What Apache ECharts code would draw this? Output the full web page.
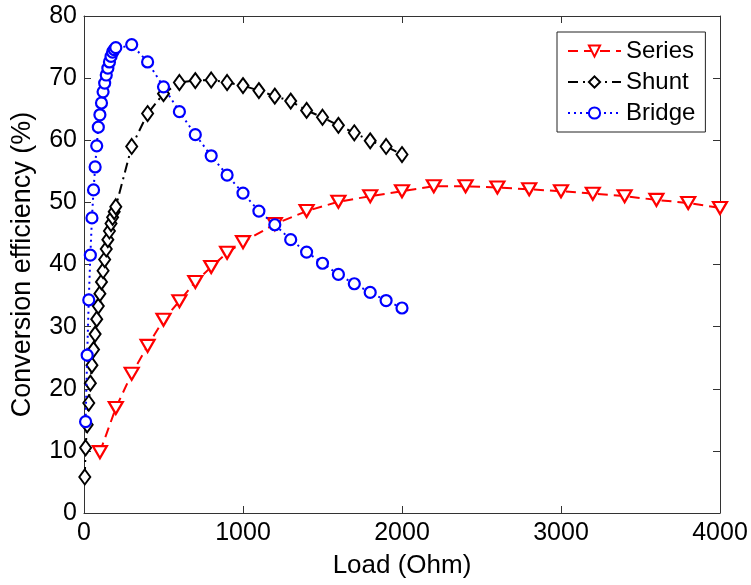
<!DOCTYPE html>
<html>
<head>
<meta charset="utf-8">
<script src="https://cdn.jsdelivr.net/npm/echarts@6/dist/echarts.min.js"></script>
<style>
  html, body { margin: 0; padding: 0; background: #fff; }
  #chart { width: 751px; height: 585px; }
</style>
</head>
<body>
<div id="chart"></div>
<script>
// values
const seriesLoad = [100, 200, 300, 400, 500, 600, 700, 800, 900, 1000,
  1200, 1400, 1600, 1800, 2000, 2200, 2400, 2600, 2800, 3000, 3200, 3400, 3600, 3800, 4000];
const seriesEff = [9.8, 16.9, 22.4, 26.9, 31.1, 34.1, 37.2, 39.6, 41.9, 43.6,
  46.5, 48.6, 50.1, 51.0, 51.8, 52.6, 52.6, 52.4, 52.1, 51.8, 51.4, 51.0, 50.4, 49.9, 49.1];

const shuntLoad = [5, 10, 20, 30, 40, 50, 60, 70, 80, 90, 100, 110, 120, 130, 140, 150, 160, 170, 180, 190, 200,
  300, 400, 500, 600, 700, 800, 900, 1000, 1100, 1200, 1300, 1400, 1500, 1600, 1700, 1800, 1900, 2000];
const shuntEff = [5.8, 10.5, 14.2, 17.7, 20.9, 23.8, 26.3, 28.8, 31.2, 33.3, 35.3, 37.2, 39.0, 40.8, 42.5, 44.0, 45.4, 46.6, 47.6, 48.5, 49.3,
  59.0, 64.3, 67.5, 69.3, 69.6, 69.7, 69.3, 68.8, 68.0, 67.1, 66.3, 64.8, 63.7, 62.4, 61.2, 59.9, 59.0, 57.7];

const bridgeLoad = [10, 20, 30, 40, 50, 60, 70, 80, 90, 100, 110, 120, 130, 140, 150, 160, 170, 180, 190, 200,
  300, 400, 500, 600, 700, 800, 900, 1000, 1100, 1200, 1300, 1400, 1500, 1600, 1700, 1800, 1900, 2000];
const bridgeEff = [14.7, 25.4, 34.3, 41.5, 47.5, 52.0, 55.7, 59.1, 62.1, 64.1, 66.0, 67.8, 69.2, 70.5, 71.6, 72.6, 73.5, 74.2, 74.6, 74.9,
  75.4, 72.6, 68.6, 64.6, 60.9, 57.5, 54.4, 51.5, 48.6, 46.4, 44.0, 42.0, 40.2, 38.4, 36.9, 35.5, 34.2, 33.0];

const xTicks = { min: 0, max: 4000, interval: 1000 };
const yTicks = { min: 0, max: 80, interval: 10 };

const font = "'Liberation Sans', Arial, Helvetica, sans-serif";
const axisColor = '#333';

function pairs(xs, ys) {
  return xs.map((x, i) => [x, ys[i]]);
}

function frameAxis(base, extra) {
  return Object.assign({
    type: 'value',
    min: base.min,
    max: base.max,
    interval: base.interval,
    axisLine: { show: true, onZero: false, lineStyle: { color: axisColor, width: 1 } },
    axisTick: { show: true, inside: true, length: 7, lineStyle: { color: axisColor } },
    splitLine: { show: false }
  }, extra);
}

const chart = echarts.init(document.getElementById('chart'));

chart.setOption({
  animation: false,
  backgroundColor: '#fff',
  textStyle: { fontFamily: font },
  grid: { left: 84, right: 31, top: 16, bottom: 72, containLabel: false },
  legend: {
    orient: 'vertical',
    left: 557,
    top: 32,
    padding: [7, 10, 7, 10],
    itemGap: 7,
    itemWidth: 53,
    itemHeight: 14,
    backgroundColor: '#fff',
    borderColor: '#222',
    borderWidth: 1,
    textStyle: { fontFamily: font, fontSize: 24, color: '#000' },
    data: ['Series', 'Shunt', 'Bridge']
  },
  xAxis: [
    frameAxis(xTicks, {
      position: 'bottom',
      name: 'Load (Ohm)',
      nameLocation: 'middle',
      nameGap: 40,
      nameTextStyle: { fontFamily: font, fontSize: 26, color: '#000' },
      axisLabel: {
        fontFamily: font, fontSize: 25, color: '#000', margin: 8,
        formatter: (v) => String(v)
      }
    }),
    frameAxis(xTicks, { position: 'top', axisLabel: { show: false } })
  ],
  yAxis: [
    frameAxis(yTicks, {
      position: 'left',
      name: 'Conversion efficiency (%)',
      nameLocation: 'middle',
      nameGap: 48,
      nameTextStyle: { fontFamily: font, fontSize: 27, color: '#000' },
      axisLabel: { fontFamily: font, fontSize: 25, color: '#000', margin: 7 }
    }),
    frameAxis(yTicks, { position: 'right', axisLabel: { show: false } })
  ],
  series: [
    {
      name: 'Series',
      type: 'line',
      data: pairs(seriesLoad, seriesEff),
      symbol: 'triangle',
      symbolRotate: 180,
      symbolSize: [14, 12],
      lineStyle: { color: '#ff0000', width: 2, type: [10, 6] },
      itemStyle: { color: '#fff', borderColor: '#ff0000', borderWidth: 2.2 },
      z: 2
    },
    {
      name: 'Shunt',
      type: 'line',
      data: pairs(shuntLoad, shuntEff),
      symbol: 'diamond',
      symbolSize: [11, 15],
      lineStyle: { color: '#000', width: 2, type: [10, 5, 2, 5] },
      itemStyle: { color: '#fff', borderColor: '#000', borderWidth: 2 },
      z: 3
    },
    {
      name: 'Bridge',
      type: 'line',
      data: pairs(bridgeLoad, bridgeEff),
      symbol: 'circle',
      symbolSize: 11,
      lineStyle: { color: '#0000ff', width: 2, type: [2, 4] },
      itemStyle: { color: '#fff', borderColor: '#0000ff', borderWidth: 2.2 },
      z: 4
    }
  ]
});
</script>
</body>
</html>
